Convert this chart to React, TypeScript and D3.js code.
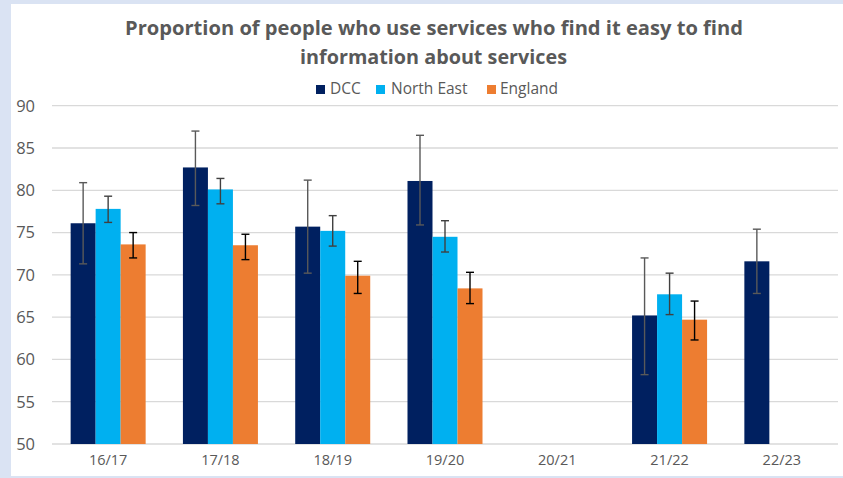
import React from "react";
import * as d3 from "d3";

const categories = ["16/17", "17/18", "18/19", "19/20", "20/21", "21/22", "22/23"];
const seriesNames = ["DCC", "North East", "England"];
const seriesColors = ["#002060", "#00B0F0", "#ED7D31"];
const errorColors = ["#595959", "#404040", "#000000"];

const dccValues: (number | null)[] = [76.1, 82.7, 75.7, 81.1, null, 65.2, 71.6];
const dccLow: (number | null)[] = [71.3, 78.2, 70.2, 75.9, null, 58.2, 67.8];
const dccHigh: (number | null)[] = [80.9, 87.0, 81.2, 86.5, null, 72.0, 75.4];

const neValues: (number | null)[] = [77.8, 80.1, 75.2, 74.5, null, 67.7, null];
const neLow: (number | null)[] = [76.2, 78.4, 73.4, 72.7, null, 65.3, null];
const neHigh: (number | null)[] = [79.3, 81.4, 77.0, 76.4, null, 70.2, null];

const engValues: (number | null)[] = [73.6, 73.5, 69.9, 68.4, null, 64.7, null];
const engLow: (number | null)[] = [72.0, 71.8, 67.8, 66.6, null, 62.3, null];
const engHigh: (number | null)[] = [75.0, 74.8, 71.6, 70.3, null, 66.9, null];

const yTicks = [50, 55, 60, 65, 70, 75, 80, 85, 90];

const W = 843;
const H = 478;
const font = "'Open Sans', sans-serif";

export default function App() {
  const values = [dccValues, neValues, engValues];
  const lows = [dccLow, neLow, engLow];
  const highs = [dccHigh, neHigh, engHigh];

  const x0 = d3.scaleBand<string>().domain(categories).range([52, 838]).paddingInner(0.332).paddingOuter(0.166);
  const x1 = d3.scaleBand<string>().domain(seriesNames).range([0, x0.bandwidth()]).padding(0);
  const y = d3.scaleLinear().domain([50, 90]).range([444, 105.7]);

  const legendPos = [
    { x: 316, tx: 330 },
    { x: 376, tx: 391 },
    { x: 487, tx: 500 },
  ];

  return (
    <svg width={W} height={H} style={{ position: "absolute", left: 0, top: 0 }}>
      <rect x={0} y={0} width={W} height={H} fill="#DAE3F3" />
      <rect x={11} y={4} width={W - 11} height={472} fill="#FFFFFF" />
      <text x={125} y={35} textLength={618} lengthAdjust="spacingAndGlyphs" fontFamily={font} fontWeight={700} fontSize={19} fill="#595959">
        Proportion of people who use services who find it easy to find
      </text>
      <text x={300} y={64} textLength={267} lengthAdjust="spacingAndGlyphs" fontFamily={font} fontWeight={700} fontSize={19} fill="#595959">
        information about services
      </text>
      {/* legend */}
      {legendPos.map((p, i) => (
        <g key={seriesNames[i]}>
          <rect x={p.x} y={85} width={9} height={9} fill={seriesColors[i]} />
          <text x={p.tx} y={94} fontFamily={font} fontSize={15.5} fill="#595959">
            {seriesNames[i]}
          </text>
        </g>
      ))}
      {/* gridlines */}
      {yTicks.map((t) => (
        <g key={t}>
          <line x1={52} x2={838} y1={y(t)} y2={y(t)} stroke="#D9D9D9" strokeWidth={1.3} />
          <text x={35} y={y(t) + 5.8} textAnchor="end" fontFamily={font} fontSize={16.5} fill="#595959">
            {t}
          </text>
        </g>
      ))}
      {/* bars */}
      {categories.map((c, ci) => (
        <g key={c} transform={`translate(${x0(c)},0)`}>
          {seriesNames.map((s, si) => {
            const v = values[si][ci];
            if (v == null) return null;
            return (
              <rect
                key={s}
                x={x1(s)}
                y={y(v)}
                width={x1.bandwidth()}
                height={y(50) - y(v)}
                fill={seriesColors[si]}
              />
            );
          })}
          {seriesNames.map((s, si) => {
            const lo = lows[si][ci];
            const hi = highs[si][ci];
            if (lo == null || hi == null) return null;
            const cx = (x1(s) as number) + x1.bandwidth() / 2;
            return (
              <g key={s} stroke={errorColors[si]} strokeWidth={1.4}>
                <line x1={cx} x2={cx} y1={y(hi)} y2={y(lo)} />
                <line x1={cx - 4} x2={cx + 4} y1={y(hi)} y2={y(hi)} />
                <line x1={cx - 4} x2={cx + 4} y1={y(lo)} y2={y(lo)} />
              </g>
            );
          })}
          <text
            x={x0.bandwidth() / 2}
            y={465}
            textAnchor="middle"
            fontFamily={font}
            fontSize={14.5}
            fill="#595959"
          >
            {c}
          </text>
        </g>
      ))}
    </svg>
  );
}
